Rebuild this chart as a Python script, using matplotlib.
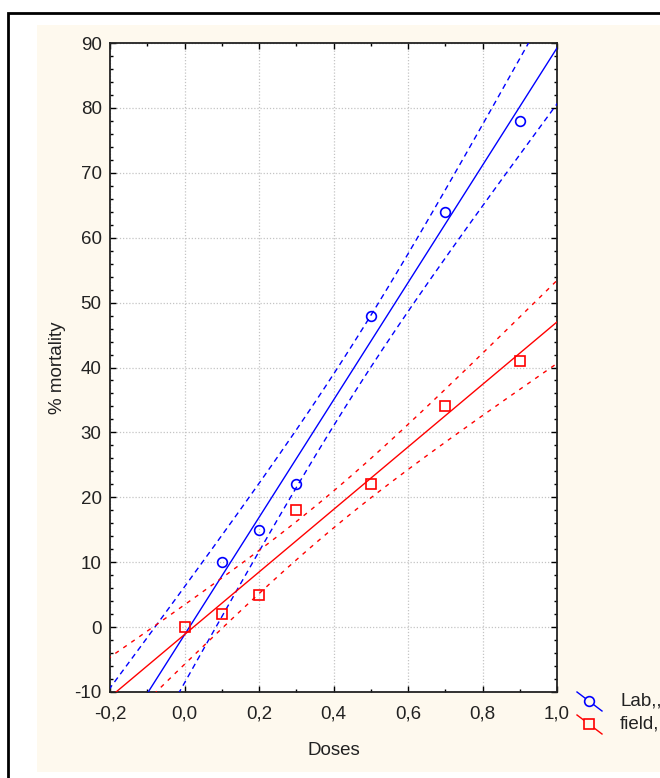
import numpy as np
import matplotlib
matplotlib.use("Agg")
import matplotlib.pyplot as plt
from matplotlib.patches import Rectangle
from matplotlib.lines import Line2D
from matplotlib.ticker import MultipleLocator, FuncFormatter

plt.rcParams['font.family'] = ['Liberation Sans', 'DejaVu Sans']

# Data
lab_x = np.array([0.1, 0.2, 0.3, 0.5, 0.7, 0.9])
lab_y = np.array([10, 15, 22, 48, 64, 78])
field_x = np.array([0.0, 0.1, 0.2, 0.3, 0.5, 0.7, 0.9])
field_y = np.array([0, 2, 5, 18, 22, 34, 41])
series_labels = ["Lab,,", "field,"]
t_lab = 2.776   # t(0.975, df=4)
t_field = 2.571 # t(0.975, df=5)

W, H = 660, 778
fig = plt.figure(figsize=(W / 100, H / 100), dpi=100, facecolor='white')

# outer frame and cream panel
fig.add_artist(Rectangle((8 / W, -0.1), 1.2, (778 - 13) / H + 0.1, transform=fig.transFigure,
                         facecolor='white', edgecolor='black', linewidth=2, zorder=0))
fig.add_artist(Rectangle((37 / W, 1 - 772 / H), 1.0, (772 - 25) / H, transform=fig.transFigure,
                         facecolor='#FEF9EE', edgecolor='none', zorder=0.5))

ax = fig.add_axes([110 / W, 1 - 692 / H, (557 - 110) / W, (692 - 43) / H])
ax.set_facecolor('white')
ax.set_zorder(1)

xs = np.linspace(-0.25, 1.05, 300)

def fit_band(x, y, t):
    n = len(x)
    b, a = np.polyfit(x, y, 1)
    res = y - (a + b * x)
    s = np.sqrt(np.sum(res ** 2) / (n - 2))
    sxx = np.sum((x - x.mean()) ** 2)
    fit = a + b * xs
    se = s * np.sqrt(1 / n + (xs - x.mean()) ** 2 / sxx)
    return fit, fit - t * se, fit + t * se

for x, y, t, c, mk, dash in [(lab_x, lab_y, t_lab, '#0000FF', 'o', (4, 3)),
                             (field_x, field_y, t_field, '#FF0000', 's', (3, 4))]:
    fit, lo, hi = fit_band(x, y, t)
    ax.plot(xs, fit, color=c, lw=1.0, zorder=3)
    ax.plot(xs, lo, color=c, lw=1.0, linestyle=(0, dash), zorder=3)
    ax.plot(xs, hi, color=c, lw=1.0, linestyle=(0, dash), zorder=3)
    ax.plot(x, y, linestyle='none', marker=mk, markersize=7 if mk == 'o' else 7.5,
            markerfacecolor='none', markeredgecolor=c, markeredgewidth=1.2, zorder=4)

ax.set_xlim(-0.2, 1.0)
ax.set_ylim(-10, 90)
ax.xaxis.set_major_locator(MultipleLocator(0.2))
ax.xaxis.set_minor_locator(MultipleLocator(0.1))
ax.yaxis.set_major_locator(MultipleLocator(10))
ax.yaxis.set_minor_locator(MultipleLocator(2))
ax.xaxis.set_major_formatter(FuncFormatter(lambda v, p: f"{v:.1f}".replace('.', ',').replace('-0,0', '0,0')))
ax.yaxis.set_major_formatter(FuncFormatter(lambda v, p: f"{v:.0f}"))
ax.tick_params(which='both', direction='in', top=True, right=True, colors='black',
               labelcolor='#222222', labelsize=13.5)
ax.tick_params(which='major', length=4, width=1)
ax.tick_params(which='minor', length=2.5, width=1)
ax.tick_params(axis='x', pad=10)
ax.tick_params(axis='y', pad=6)
for sp in ax.spines.values():
    sp.set_linewidth(1.3)
    sp.set_color('#222222')
ax.grid(True, which='major', color='#C4C4C4', linestyle=(0, (1, 1.5)), linewidth=0.9)
ax.set_axisbelow(True)

ax.set_xlabel("Doses", fontsize=13.5, color='#222222', labelpad=14)
ax.set_ylabel("% mortality", fontsize=13.5, color='#222222', labelpad=6)

# legend drawn at right bottom with diagonal samples
for i, (lab, c, mk) in enumerate(zip(series_labels, ['#0000FF', '#FF0000'], ['o', 's'])):
    yc = 1 - (701 + i * 23) / H
    fig.add_artist(Line2D([577 / W, 602 / W], [yc + 9 / H, yc - 10 / H], transform=fig.transFigure,
                          color=c, lw=1.0, zorder=5))
    fig.add_artist(Line2D([589 / W], [yc], transform=fig.transFigure, marker=mk,
                          markersize=7, markerfacecolor='#FEF9EE', markeredgecolor=c,
                          markeredgewidth=1.2, linestyle='none', zorder=6))
    fig.text(620 / W, yc, lab, fontsize=13.5, color='#222222', va='center', ha='left', zorder=6)

fig.savefig("out.png", dpi=100, facecolor='white')
